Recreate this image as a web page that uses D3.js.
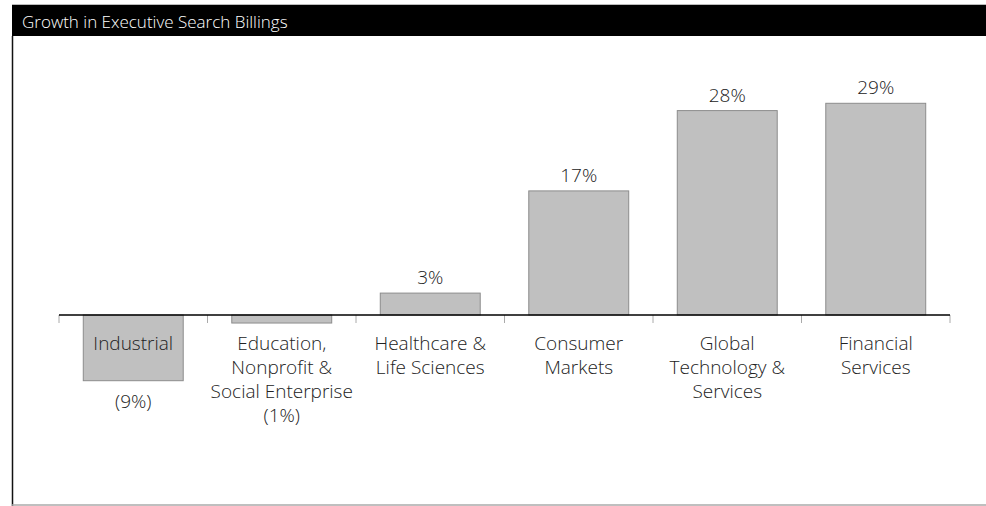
<!DOCTYPE html>
<html>
<head>
<meta charset="utf-8">
<script src="https://cdn.jsdelivr.net/npm/d3@7"></script>
<style>
  body { margin: 0; background: #fff; }
  svg { display: block; font-family: "Open Sans", "Noto Sans", sans-serif; }
</style>
</head>
<body>
<svg width="986" height="506"></svg>
<script>
const categories = ['Industrial', 'Education', 'Healthcare', 'Consumer', 'Global Tech', 'Financial'];
const tickLabels = [
    ['Industrial'],
    ['Education,', 'Nonprofit &', 'Social Enterprise'],
    ['Healthcare &', 'Life Sciences'],
    ['Consumer', 'Markets'],
    ['Global', 'Technology &', 'Services'],
    ['Financial', 'Services']
];
const growth = [-9, -1.1, 3, 17, 28, 29];
const valueLabels = ['(9%)', '(1%)', '3%', '17%', '28%', '29%'];

const width = 986;
const height = 506;

const svg = d3.select('svg');

// frame: title bar, left rule, bottom rule
svg.append('rect')
    .attr('x', 12).attr('y', 5)
    .attr('width', width - 12).attr('height', 31)
    .attr('fill', '#000');

svg.append('line')
    .attr('x1', 12).attr('x2', width)
    .attr('y1', 4.5).attr('y2', 4.5)
    .attr('stroke', '#bbb');

svg.append('text')
    .attr('x', 22).attr('y', 28)
    .attr('fill', '#fff')
    .attr('font-size', 17)
    .attr('font-weight', 300)
    .text('Growth in Executive Search Billings');

svg.append('line')
    .attr('x1', 12.5).attr('x2', 12.5)
    .attr('y1', 36).attr('y2', height)
    .attr('stroke', '#111').attr('stroke-width', 1.5);

svg.append('line')
    .attr('x1', 12).attr('x2', width)
    .attr('y1', 505).attr('y2', 505)
    .attr('stroke', '#aaa').attr('stroke-width', 1.5);

// scales
const pad = 0.327;
const x = d3.scaleBand()
    .domain(categories)
    .range([59, 950])
    .paddingInner(pad)
    .paddingOuter(pad / 2);

const y = d3.scaleLinear()
    .domain([-20, 35])
    .range([315 + 20 * 7.3, 315 - 35 * 7.3]);

const step = x.step();

// bars
svg.selectAll('rect.bar')
    .data(growth)
    .enter()
    .append('rect')
    .attr('class', 'bar')
    .attr('x', (d, i) => x(categories[i]))
    .attr('width', x.bandwidth())
    .attr('y', d => Math.min(y(d), y(0)))
    .attr('height', d => Math.abs(y(d) - y(0)))
    .attr('fill', '#c0c0c0')
    .attr('stroke', '#8c8c8c')
    .attr('stroke-width', 1);

// axis line and ticks at band edges
const tickXs = categories.map(c => x(c) - step * pad / 2).concat([950]);
svg.selectAll('line.tick')
    .data(tickXs)
    .enter()
    .append('line')
    .attr('class', 'tick')
    .attr('x1', d => d).attr('x2', d => d)
    .attr('y1', y(0)).attr('y2', y(0) + 8)
    .attr('stroke', '#aaa');

svg.append('line')
    .attr('x1', 59).attr('x2', 950)
    .attr('y1', y(0)).attr('y2', y(0))
    .attr('stroke', '#000').attr('stroke-width', 1.5);

// category labels
const lineH = 24;
const firstBase = y(0) + 35;
const catText = svg.selectAll('text.cat')
    .data(tickLabels)
    .enter()
    .append('text')
    .attr('class', 'cat')
    .attr('text-anchor', 'middle')
    .attr('font-size', 19)
    .attr('font-weight', 300)
    .attr('fill', '#222');

catText.selectAll('tspan')
    .data((d, i) => d.map(t => ({ t, i })))
    .enter()
    .append('tspan')
    .attr('x', d => x(categories[d.i]) + x.bandwidth() / 2)
    .attr('y', (d, j) => firstBase + j * lineH)
    .text(d => d.t);

// value labels
svg.selectAll('text.val')
    .data(growth)
    .enter()
    .append('text')
    .attr('class', 'val')
    .attr('text-anchor', 'middle')
    .attr('font-size', 19)
    .attr('font-weight', 300)
    .attr('fill', '#222')
    .attr('x', (d, i) => x(categories[i]) + x.bandwidth() / 2)
    .attr('y', (d, i) => {
        if (d >= 0) return y(d) - 9;
        const below = firstBase + tickLabels[i].length * lineH;
        return Math.max(y(d) + 27, below);
    })
    .text((d, i) => valueLabels[i]);
</script>
</body>
</html>
